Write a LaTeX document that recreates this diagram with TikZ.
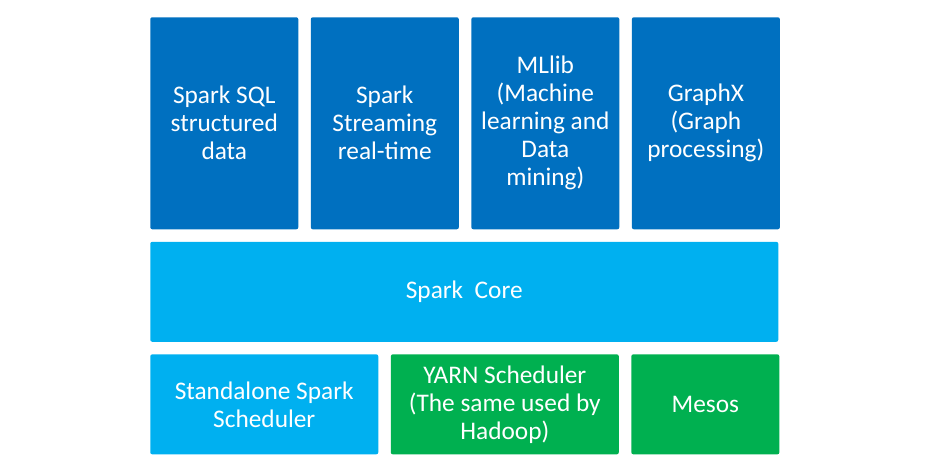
\documentclass[tikz,border=0pt]{standalone}
\usepackage{fontspec}
\setmainfont{Carlito}
\usepackage{xcolor}
\usetikzlibrary{positioning}
\definecolor{darkblue}{HTML}{0070C0}
\definecolor{lightblue}{HTML}{00B0F0}
\definecolor{green}{HTML}{00B050}
\tikzset{
  layer/.style={rounded corners=1.5pt,inner sep=0pt,align=center,
    text=white,font=\fontsize{19}{21}\selectfont},
  library/.style={layer,fill=darkblue,minimum width=111pt,minimum height=159pt},
  core/.style={layer,fill=lightblue,minimum width=471pt,minimum height=75pt},
  scheduler/.style={layer,minimum height=75pt}
}
\begin{document}
\begin{tikzpicture}[x=0.75pt,y=-0.75pt,node distance=9pt]
  \useasboundingbox (0,0) rectangle (942,472);
  % libraries on top
  \node[library,anchor=north west] (sql) at (150,17) {Spark SQL\\structured\\data};
  \node[library,right=of sql] (streaming) {Spark\\Streaming\\real-time};
  \node[library,right=of streaming] (mllib) {MLlib\\(Machine\\learning and\\Data\\mining)};
  \node[library,right=of mllib] (graphx) {GraphX\\(Graph\\processing)};
  % core
  \node[core,below=of sql.south west,anchor=north west] (core) {Spark~~Core};
  % schedulers
  \node[scheduler,fill=lightblue,minimum width=171pt,below=of core.south west,anchor=north west] (standalone) {Standalone Spark\\Scheduler};
  \node[scheduler,fill=green,minimum width=171pt,right=of standalone] (yarn) {YARN Scheduler\\(The same used by\\Hadoop)};
  \node[scheduler,fill=green,minimum width=111pt,right=of yarn] (mesos) {Mesos};
\end{tikzpicture}
\end{document}
